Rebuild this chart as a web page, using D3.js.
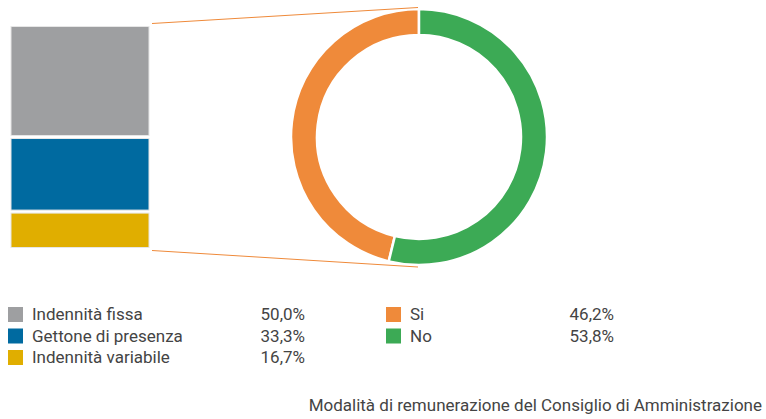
<!DOCTYPE html>
<html>
<head>
<meta charset="utf-8">
<script src="https://cdn.jsdelivr.net/npm/d3@7"></script>
<style>
  body { margin: 0; background: #fff; }
  text { font-family: Roboto, sans-serif; fill: #444; }
</style>
</head>
<body>
<div id="chart"></div>
<script>
// stacked bar (breakdown of "Si")
const barCats = ["Indennità fissa", "Gettone di presenza", "Indennità variabile"];
const barValues = [50.0, 33.3, 16.7];
const barColors = ["#9e9fa1", "#006aa0", "#e0ae00"];

// donut
const pieCats = ["Si", "No"];
const pieValues = [46.2, 53.8];
const pieColors = ["#ef8a3a", "#3caa55"];

const title = "Modalità di remunerazione del Consiglio di Amministrazione";

const width = 766, height = 419;
const fmt = v => d3.format(".1f")(v).replace(".", ",") + "%";

const svg = d3.select("#chart")
    .append("svg")
    .attr("width", width)
    .attr("height", height);

// donut
const cx = 419, cy = 137, outerR = 128, innerR = 102;
const pie = d3.pie().sort(null).value(d => d.v)
    .startAngle(2 * Math.PI).endAngle(0); // Si goes counter-clockwise from top, No fills the rest
const pieData = pie(pieCats.map((c, i) => ({ c, v: pieValues[i], i })));

const arc = d3.arc().innerRadius(innerR).outerRadius(outerR);

svg.append("g")
    .attr("transform", `translate(${cx},${cy})`)
    .selectAll("path")
    .data(pieData)
    .join("path")
    .attr("d", arc)
    .attr("fill", d => pieColors[d.data.i])
    .attr("stroke", "#fff")
    .attr("stroke-width", 2.5);

// stacked bar
const barX = 11, barW = 138, barTop = 25, barBottom = 249;
const y = d3.scaleLinear().domain([0, d3.sum(barValues)]).range([barTop, barBottom]);
let acc = 0;
const stacked = barValues.map((v, i) => { const s = { i, y0: acc, y1: acc + v }; acc += v; return s; });

svg.append("g")
    .selectAll("rect")
    .data(stacked)
    .join("rect")
    .attr("x", barX)
    .attr("y", d => y(d.y0) + 1.5)
    .attr("width", barW)
    .attr("height", d => y(d.y1) - y(d.y0) - 3)
    .attr("fill", d => barColors[d.i])
    .attr("stroke", "#e6e6e6")
    .attr("stroke-width", 1);

// connector lines from bar to the donut
const topPt = [cx - 1, cy - outerR - 1.5];
const botPt = [cx - 1, cy + outerR + 2];
svg.append("line")
    .attr("x1", barX + barW + 3).attr("y1", barTop - 1.5)
    .attr("x2", topPt[0]).attr("y2", topPt[1])
    .attr("stroke", "#ef8a3a").attr("stroke-width", 1);
svg.append("line")
    .attr("x1", barX + barW + 3).attr("y1", barBottom + 1.5)
    .attr("x2", botPt[0]).attr("y2", botPt[1])
    .attr("stroke", "#ef8a3a").attr("stroke-width", 1);

// legends
function legend(cats, vals, colors, x0, xVal, y0) {
    const g = svg.append("g");
    const row = g.selectAll("g")
        .data(cats)
        .join("g")
        .attr("transform", (d, i) => `translate(0,${y0 + i * 21.5})`);
    row.append("rect")
        .attr("x", x0).attr("y", -7.5)
        .attr("width", 15).attr("height", 15)
        .attr("fill", (d, i) => colors[i]);
    row.append("text")
        .attr("x", x0 + 24).attr("dy", "0.35em")
        .style("font-size", "17px")
        .text(d => d);
    row.append("text")
        .attr("x", xVal).attr("dy", "0.35em")
        .attr("text-anchor", "end")
        .style("font-size", "17px")
        .text((d, i) => fmt(vals[i]));
}
legend(barCats, barValues, barColors, 8, 305, 314.5);
legend(pieCats, pieValues, pieColors, 386, 614, 314.5);

svg.append("text")
    .attr("x", 762).attr("y", 411)
    .attr("text-anchor", "end")
    .style("font-size", "17px")
    .text(title);
</script>
</body>
</html>
